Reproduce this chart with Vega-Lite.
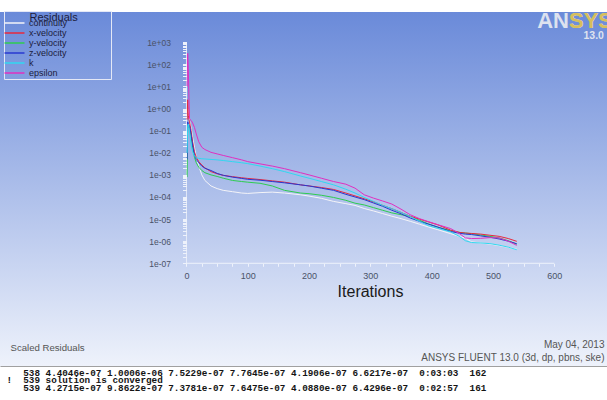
{
  "$schema": "https://vega.github.io/schema/vega-lite/v6.json",
  "width": 607,
  "height": 400,
  "autosize": {"type": "none"},
  "padding": 0,
  "background": "#ffffff",
  "config": {"view": {"stroke": null}, "font": "Liberation Sans"},
  "title": {
    "text": "ANSYS",
    "subtitle": "SYS",
    "orient": "top",
    "anchor": "end",
    "frame": "group",
    "offset": -33,
    "dx": 6,
    "font": "Liberation Sans",
    "fontSize": 22,
    "fontWeight": "bold",
    "color": "#dde2ef",
    "subtitleFont": "Liberation Sans",
    "subtitleFontSize": 22,
    "subtitleFontWeight": "bold",
    "subtitleColor": "#d6be5c",
    "subtitlePadding": -22
  },
  "datasets": {
    "res": [
      {"i":1,"s":"continuity","v":1},{"i":2,"s":"continuity","v":1},{"i":3,"s":"continuity","v":0.794},{"i":4,"s":"continuity","v":0.501},{"i":5,"s":"continuity","v":0.282},{"i":6,"s":"continuity","v":0.224},{"i":8,"s":"continuity","v":0.112},{"i":10,"s":"continuity","v":0.0501},{"i":13,"s":"continuity","v":0.0178},{"i":16,"s":"continuity","v":0.00631},{"i":20,"s":"continuity","v":0.00251},{"i":25,"s":"continuity","v":0.001},{"i":30,"s":"continuity","v":5.62e-4},{"i":40,"s":"continuity","v":3.16e-4},{"i":50,"s":"continuity","v":2.40e-4},{"i":60,"s":"continuity","v":2.0e-4},{"i":75,"s":"continuity","v":1.74e-4},{"i":90,"s":"continuity","v":1.51e-4},{"i":100,"s":"continuity","v":1.45e-4},{"i":120,"s":"continuity","v":1.58e-4},{"i":140,"s":"continuity","v":1.66e-4},{"i":160,"s":"continuity","v":1.51e-4},{"i":186,"s":"continuity","v":1.26e-4},{"i":200,"s":"continuity","v":1.10e-4},{"i":220,"s":"continuity","v":8.71e-5},{"i":240,"s":"continuity","v":6.31e-5},{"i":260,"s":"continuity","v":5.01e-5},{"i":275,"s":"continuity","v":4.17e-5},{"i":290,"s":"continuity","v":3.02e-5},{"i":305,"s":"continuity","v":2.34e-5},{"i":320,"s":"continuity","v":1.78e-5},{"i":335,"s":"continuity","v":1.35e-5},{"i":350,"s":"continuity","v":1.05e-5},{"i":365,"s":"continuity","v":7.94e-6},{"i":380,"s":"continuity","v":5.89e-6},{"i":395,"s":"continuity","v":4.37e-6},{"i":410,"s":"continuity","v":3.31e-6},{"i":431,"s":"continuity","v":2.19e-6},{"i":445,"s":"continuity","v":1.66e-6},{"i":455,"s":"continuity","v":1.38e-6},{"i":465,"s":"continuity","v":9.33e-7},{"i":480,"s":"continuity","v":8.32e-7},{"i":495,"s":"continuity","v":7.41e-7},{"i":510,"s":"continuity","v":6.31e-7},{"i":525,"s":"continuity","v":5.25e-7},{"i":538,"s":"continuity","v":4.4046e-7},{"i":539,"s":"continuity","v":4.2715e-7},
      {"i":1,"s":"y-velocity","v":7.94e-4},{"i":2,"s":"y-velocity","v":0.2},{"i":3,"s":"y-velocity","v":0.158},{"i":4,"s":"y-velocity","v":0.141},{"i":5,"s":"y-velocity","v":0.126},{"i":6,"s":"y-velocity","v":0.1},{"i":8,"s":"y-velocity","v":0.0447},{"i":10,"s":"y-velocity","v":0.0178},{"i":13,"s":"y-velocity","v":0.00631},{"i":16,"s":"y-velocity","v":0.00355},{"i":20,"s":"y-velocity","v":0.00224},{"i":25,"s":"y-velocity","v":0.00158},{"i":30,"s":"y-velocity","v":0.00126},{"i":40,"s":"y-velocity","v":0.001},{"i":50,"s":"y-velocity","v":8.51e-4},{"i":60,"s":"y-velocity","v":7.08e-4},{"i":75,"s":"y-velocity","v":5.62e-4},{"i":90,"s":"y-velocity","v":5.01e-4},{"i":100,"s":"y-velocity","v":4.68e-4},{"i":120,"s":"y-velocity","v":4.17e-4},{"i":140,"s":"y-velocity","v":3.16e-4},{"i":160,"s":"y-velocity","v":2.0e-4},{"i":186,"s":"y-velocity","v":1.51e-4},{"i":200,"s":"y-velocity","v":1.41e-4},{"i":220,"s":"y-velocity","v":1.20e-4},{"i":240,"s":"y-velocity","v":9.55e-5},{"i":260,"s":"y-velocity","v":7.08e-5},{"i":275,"s":"y-velocity","v":5.25e-5},{"i":290,"s":"y-velocity","v":4.37e-5},{"i":305,"s":"y-velocity","v":3.31e-5},{"i":320,"s":"y-velocity","v":2.51e-5},{"i":335,"s":"y-velocity","v":1.91e-5},{"i":350,"s":"y-velocity","v":1.58e-5},{"i":365,"s":"y-velocity","v":1.32e-5},{"i":380,"s":"y-velocity","v":8.91e-6},{"i":395,"s":"y-velocity","v":6.03e-6},{"i":410,"s":"y-velocity","v":4.27e-6},{"i":431,"s":"y-velocity","v":3.02e-6},{"i":445,"s":"y-velocity","v":2.51e-6},{"i":455,"s":"y-velocity","v":2.34e-6},{"i":465,"s":"y-velocity","v":2.19e-6},{"i":480,"s":"y-velocity","v":1.91e-6},{"i":495,"s":"y-velocity","v":1.66e-6},{"i":510,"s":"y-velocity","v":1.41e-6},{"i":525,"s":"y-velocity","v":1.05e-6},{"i":538,"s":"y-velocity","v":7.5229e-7},{"i":539,"s":"y-velocity","v":7.3781e-7},
      {"i":1,"s":"x-velocity","v":0.316},{"i":2,"s":"x-velocity","v":2.51},{"i":3,"s":"x-velocity","v":0.501},{"i":4,"s":"x-velocity","v":0.316},{"i":5,"s":"x-velocity","v":0.251},{"i":6,"s":"x-velocity","v":0.178},{"i":8,"s":"x-velocity","v":0.0794},{"i":10,"s":"x-velocity","v":0.0316},{"i":13,"s":"x-velocity","v":0.0112},{"i":16,"s":"x-velocity","v":0.00631},{"i":20,"s":"x-velocity","v":0.00398},{"i":25,"s":"x-velocity","v":0.00282},{"i":30,"s":"x-velocity","v":0.00209},{"i":40,"s":"x-velocity","v":0.00141},{"i":50,"s":"x-velocity","v":0.00112},{"i":60,"s":"x-velocity","v":9.55e-4},{"i":75,"s":"x-velocity","v":8.32e-4},{"i":90,"s":"x-velocity","v":7.41e-4},{"i":100,"s":"x-velocity","v":6.92e-4},{"i":120,"s":"x-velocity","v":6.17e-4},{"i":140,"s":"x-velocity","v":5.37e-4},{"i":160,"s":"x-velocity","v":4.68e-4},{"i":186,"s":"x-velocity","v":3.55e-4},{"i":200,"s":"x-velocity","v":3.16e-4},{"i":220,"s":"x-velocity","v":2.69e-4},{"i":240,"s":"x-velocity","v":2.19e-4},{"i":260,"s":"x-velocity","v":1.51e-4},{"i":275,"s":"x-velocity","v":1.12e-4},{"i":290,"s":"x-velocity","v":8.32e-5},{"i":305,"s":"x-velocity","v":6.03e-5},{"i":320,"s":"x-velocity","v":4.17e-5},{"i":335,"s":"x-velocity","v":2.95e-5},{"i":350,"s":"x-velocity","v":2.0e-5},{"i":365,"s":"x-velocity","v":1.35e-5},{"i":380,"s":"x-velocity","v":1.0e-5},{"i":395,"s":"x-velocity","v":7.41e-6},{"i":410,"s":"x-velocity","v":5.5e-6},{"i":431,"s":"x-velocity","v":3.16e-6},{"i":445,"s":"x-velocity","v":2.51e-6},{"i":455,"s":"x-velocity","v":2.34e-6},{"i":465,"s":"x-velocity","v":2.24e-6},{"i":480,"s":"x-velocity","v":2.09e-6},{"i":495,"s":"x-velocity","v":1.86e-6},{"i":510,"s":"x-velocity","v":1.66e-6},{"i":525,"s":"x-velocity","v":1.32e-6},{"i":538,"s":"x-velocity","v":1.0006e-6},{"i":539,"s":"x-velocity","v":9.8622e-7},
      {"i":1,"s":"z-velocity","v":0.00501},{"i":2,"s":"z-velocity","v":0.251},{"i":3,"s":"z-velocity","v":0.2},{"i":4,"s":"z-velocity","v":0.178},{"i":5,"s":"z-velocity","v":0.158},{"i":6,"s":"z-velocity","v":0.126},{"i":8,"s":"z-velocity","v":0.0562},{"i":10,"s":"z-velocity","v":0.0224},{"i":13,"s":"z-velocity","v":0.00794},{"i":16,"s":"z-velocity","v":0.00501},{"i":20,"s":"z-velocity","v":0.00355},{"i":25,"s":"z-velocity","v":0.00251},{"i":30,"s":"z-velocity","v":0.002},{"i":40,"s":"z-velocity","v":0.00158},{"i":50,"s":"z-velocity","v":0.00117},{"i":60,"s":"z-velocity","v":9.55e-4},{"i":75,"s":"z-velocity","v":7.94e-4},{"i":90,"s":"z-velocity","v":6.92e-4},{"i":100,"s":"z-velocity","v":6.31e-4},{"i":120,"s":"z-velocity","v":5.75e-4},{"i":140,"s":"z-velocity","v":5.01e-4},{"i":160,"s":"z-velocity","v":4.37e-4},{"i":186,"s":"z-velocity","v":3.55e-4},{"i":200,"s":"z-velocity","v":3.16e-4},{"i":220,"s":"z-velocity","v":2.51e-4},{"i":240,"s":"z-velocity","v":2.0e-4},{"i":260,"s":"z-velocity","v":1.32e-4},{"i":275,"s":"z-velocity","v":1.0e-4},{"i":290,"s":"z-velocity","v":7.59e-5},{"i":305,"s":"z-velocity","v":5.37e-5},{"i":320,"s":"z-velocity","v":3.80e-5},{"i":335,"s":"z-velocity","v":2.51e-5},{"i":350,"s":"z-velocity","v":1.74e-5},{"i":365,"s":"z-velocity","v":1.12e-5},{"i":380,"s":"z-velocity","v":7.94e-6},{"i":395,"s":"z-velocity","v":5.89e-6},{"i":410,"s":"z-velocity","v":4.37e-6},{"i":431,"s":"z-velocity","v":2.75e-6},{"i":445,"s":"z-velocity","v":2.29e-6},{"i":455,"s":"z-velocity","v":2.09e-6},{"i":465,"s":"z-velocity","v":2.0e-6},{"i":480,"s":"z-velocity","v":1.74e-6},{"i":495,"s":"z-velocity","v":1.51e-6},{"i":510,"s":"z-velocity","v":1.26e-6},{"i":525,"s":"z-velocity","v":1.0e-6},{"i":538,"s":"z-velocity","v":7.7645e-7},{"i":539,"s":"z-velocity","v":7.6475e-7},
      {"i":1,"s":"k","v":0.01},{"i":2,"s":"k","v":0.178},{"i":3,"s":"k","v":0.2},{"i":4,"s":"k","v":0.141},{"i":5,"s":"k","v":0.0891},{"i":6,"s":"k","v":0.0501},{"i":8,"s":"k","v":0.02},{"i":10,"s":"k","v":0.0112},{"i":13,"s":"k","v":0.00708},{"i":16,"s":"k","v":0.00603},{"i":20,"s":"k","v":0.00562},{"i":25,"s":"k","v":0.00537},{"i":30,"s":"k","v":0.00525},{"i":40,"s":"k","v":0.00501},{"i":50,"s":"k","v":0.00479},{"i":60,"s":"k","v":0.00447},{"i":75,"s":"k","v":0.00398},{"i":90,"s":"k","v":0.00355},{"i":100,"s":"k","v":0.00324},{"i":120,"s":"k","v":0.00251},{"i":140,"s":"k","v":0.00191},{"i":160,"s":"k","v":0.00141},{"i":186,"s":"k","v":8.91e-4},{"i":200,"s":"k","v":7.08e-4},{"i":220,"s":"k","v":5.01e-4},{"i":240,"s":"k","v":3.55e-4},{"i":260,"s":"k","v":2.24e-4},{"i":275,"s":"k","v":1.51e-4},{"i":290,"s":"k","v":9.55e-5},{"i":305,"s":"k","v":6.31e-5},{"i":320,"s":"k","v":4.17e-5},{"i":335,"s":"k","v":2.95e-5},{"i":350,"s":"k","v":2.0e-5},{"i":365,"s":"k","v":1.32e-5},{"i":380,"s":"k","v":7.94e-6},{"i":395,"s":"k","v":5.01e-6},{"i":410,"s":"k","v":3.80e-6},{"i":431,"s":"k","v":2.63e-6},{"i":445,"s":"k","v":1.66e-6},{"i":455,"s":"k","v":1.05e-6},{"i":465,"s":"k","v":8.71e-7},{"i":480,"s":"k","v":8.32e-7},{"i":495,"s":"k","v":7.76e-7},{"i":510,"s":"k","v":6.61e-7},{"i":525,"s":"k","v":5.37e-7},{"i":538,"s":"k","v":4.1906e-7},{"i":539,"s":"k","v":4.0880e-7},
      {"i":1,"s":"epsilon","v":10},{"i":2,"s":"epsilon","v":316},{"i":3,"s":"epsilon","v":63.1},{"i":4,"s":"epsilon","v":3.16},{"i":5,"s":"epsilon","v":0.355},{"i":6,"s":"epsilon","v":0.316},{"i":8,"s":"epsilon","v":0.282},{"i":10,"s":"epsilon","v":0.224},{"i":13,"s":"epsilon","v":0.141},{"i":16,"s":"epsilon","v":0.0708},{"i":20,"s":"epsilon","v":0.0316},{"i":25,"s":"epsilon","v":0.0178},{"i":30,"s":"epsilon","v":0.0141},{"i":40,"s":"epsilon","v":0.0105},{"i":50,"s":"epsilon","v":0.00891},{"i":60,"s":"epsilon","v":0.00759},{"i":75,"s":"epsilon","v":0.00603},{"i":90,"s":"epsilon","v":0.00479},{"i":100,"s":"epsilon","v":0.00398},{"i":120,"s":"epsilon","v":0.00316},{"i":140,"s":"epsilon","v":0.00251},{"i":160,"s":"epsilon","v":0.00191},{"i":186,"s":"epsilon","v":0.00126},{"i":200,"s":"epsilon","v":0.001},{"i":220,"s":"epsilon","v":7.08e-4},{"i":240,"s":"epsilon","v":5.01e-4},{"i":260,"s":"epsilon","v":3.80e-4},{"i":275,"s":"epsilon","v":2.51e-4},{"i":290,"s":"epsilon","v":1.26e-4},{"i":305,"s":"epsilon","v":8.91e-5},{"i":320,"s":"epsilon","v":6.61e-5},{"i":335,"s":"epsilon","v":4.79e-5},{"i":350,"s":"epsilon","v":2.82e-5},{"i":365,"s":"epsilon","v":1.58e-5},{"i":380,"s":"epsilon","v":1.05e-5},{"i":395,"s":"epsilon","v":7.59e-6},{"i":410,"s":"epsilon","v":5.62e-6},{"i":431,"s":"epsilon","v":3.72e-6},{"i":445,"s":"epsilon","v":2.24e-6},{"i":455,"s":"epsilon","v":1.41e-6},{"i":465,"s":"epsilon","v":1.32e-6},{"i":480,"s":"epsilon","v":1.35e-6},{"i":495,"s":"epsilon","v":1.45e-6},{"i":510,"s":"epsilon","v":1.41e-6},{"i":525,"s":"epsilon","v":1.0e-6},{"i":538,"s":"epsilon","v":6.6217e-7},{"i":539,"s":"epsilon","v":6.4296e-7}
    ]
  },
  "resolve": {"axis": {"x": "independent", "y": "independent"}},
  "layer": [
    {
      "data": {"values": [{}]},
      "mark": {"type": "rect", "strokeWidth": 0, "color": {"gradient": "linear", "x1": 0, "y1": 0, "x2": 0, "y2": 1, "stops": [
        {"offset": 0, "color": "#ffffff"}, {"offset": 0.029, "color": "#ffffff"},
        {"offset": 0.03, "color": "#6a8ad9"}, {"offset": 0.915, "color": "#eef2fb"},
        {"offset": 0.917, "color": "#ffffff"}, {"offset": 1, "color": "#ffffff"}]}},
      "encoding": {}
    },
    {
      "data": {"values": [{}]},
      "mark": {"type": "rule", "color": "#eef2fb", "strokeWidth": 1},
      "encoding": {
        "x": {"datum": 0, "type": "quantitative", "scale": {"domain": [-304.2, 686.0], "nice": false, "zero": false}, "axis": null},
        "y": {"datum": 1e-7, "type": "quantitative", "scale": {"type": "log", "domain": [6.52e-14, 82035], "nice": false}, "axis": {
          "orient": "right", "offset": 0, "domain": false, "ticks": false, "labels": false, "grid": false, "zindex": 1,
          "title": ["\u200b\u00a0\u00a0\u00a0538 4.4046e-07 1.0006e-06 7.5229e-07 7.7645e-07 4.1906e-07 6.6217e-07\u00a0\u00a00:03:03\u00a0\u00a0162", "!\u00a0\u00a0539 solution is converged", "\u200b\u00a0\u00a0\u00a0539 4.2715e-07 9.8622e-07 7.3781e-07 7.6475e-07 4.0880e-07 6.4296e-07\u00a0\u00a00:02:57\u00a0\u00a0161"],
          "titleAngle": 0, "titleAlign": "left", "titleBaseline": "alphabetic", "titleX": -601, "titleY": 375,
          "titleFont": "Liberation Mono", "titleFontSize": 9.3, "titleFontWeight": "bold", "titleLineHeight": 7.6,
          "titleColor": "#141414", "titleLimit": 1000}},
        "y2": {"datum": 1000},
        "strokeDash": {"datum": "13.0", "type": "nominal", "legend": {
          "orient": "none", "legendX": 573, "legendY": 31, "title": null, "padding": 0,
          "symbolOpacity": 0, "symbolSize": 1, "labelOffset": 0,
          "labelFont": "Liberation Sans", "labelFontSize": 10.5, "labelFontWeight": "bold", "labelColor": "#dfe3ef"}}
      }
    },
    {
      "data": {"values": [{}]},
      "mark": {"type": "rule", "color": "#eef2fb", "strokeWidth": 1},
      "encoding": {
        "y": {"datum": 1e-7, "type": "quantitative", "scale": {"type": "log", "domain": [6.52e-14, 82035], "nice": false}, "axis": null},
        "x": {"datum": 0, "type": "quantitative", "scale": {"domain": [-304.2, 686.0], "nice": false, "zero": false}, "axis": {
          "orient": "top", "offset": -366, "domain": true, "domainColor": "#a0a0a0", "domainWidth": 1, "ticks": false, "labels": false, "grid": false, "zindex": 1,
          "title": ["May 04, 2013", "ANSYS FLUENT 13.0 (3d, dp, pbns, ske)"],
          "titleAlign": "right", "titleBaseline": "alphabetic", "titleX": 604, "titleY": -18.5, "titleAngle": 0,
          "titleFont": "Liberation Sans", "titleFontSize": 10, "titleFontWeight": "normal", "titleLineHeight": 12.5,
          "titleColor": "#555555", "titleLimit": 1000}},
        "x2": {"datum": 600}
      }
    },
    {
      "data": {"name": "res"},
      "mark": {"type": "line", "strokeWidth": 1},
      "encoding": {
        "x": {"field": "i", "type": "quantitative", "scale": {"domain": [-304.2, 686.0], "nice": false, "zero": false}, "axis": {
          "orient": "bottom", "offset": -136.7, "domain": false, "grid": false, "zindex": 1,
          "values": [0,25,50,75,100,125,150,175,200,225,250,275,300,325,350,375,400,425,450,475,500,525,550,575,600],
          "labelExpr": "datum.value % 100 === 0 ? datum.label : ''",
          "tickSize": 3,
          "tickColor": "#eef2fb", "labelFont": "Liberation Sans", "labelFontSize": 9, "labelColor": "#4a5268", "labelPadding": 5,
          "labelOverlap": false, "labelFlush": false, "labelBound": false,
          "title": "Iterations", "titleX": 370, "titleY": 33, "titleBaseline": "alphabetic", "titleAlign": "center",
          "titleFont": "Liberation Sans", "titleFontSize": 16, "titleFontWeight": "normal", "titleColor": "#1a1a1a"}},
        "y": {"field": "v", "type": "quantitative", "scale": {"type": "log", "domain": [6.52e-14, 82035], "nice": false}, "axis": {
          "orient": "left", "offset": -186.5, "domain": false, "grid": false, "zindex": 1,
          "values": [1e-7,2e-7,3e-7,4e-7,5e-7,6e-7,7e-7,8e-7,9e-7,1e-6,2e-6,3e-6,4e-6,5e-6,6e-6,7e-6,8e-6,9e-6,1e-5,2e-5,3e-5,4e-5,5e-5,6e-5,7e-5,8e-5,9e-5,1e-4,2e-4,3e-4,4e-4,5e-4,6e-4,7e-4,8e-4,9e-4,0.001,0.002,0.003,0.004,0.005,0.006,0.007,0.008,0.009,0.01,0.02,0.03,0.04,0.05,0.06,0.07,0.08,0.09,0.1,0.2,0.3,0.4,0.5,0.6,0.7,0.8,0.9,1,2,3,4,5,6,7,8,9,10,20,30,40,50,60,70,80,90,100,200,300,400,500,600,700,800,900,1000],
          "labelExpr": "abs(log(datum.value)/LN10 - round(log(datum.value)/LN10)) < 0.001 ? ('1e' + (round(log(datum.value)/LN10) < 0 ? '-' : '+') + (abs(round(log(datum.value)/LN10)) < 10 ? '0' : '') + abs(round(log(datum.value)/LN10))) : ''",
          "tickSize": 4,
          "tickColor": "#eef2fb", "labelFont": "Liberation Sans", "labelFontSize": 8.5, "labelColor": "#4a5268", "labelPadding": 12,
          "labelOverlap": false, "labelFlush": false, "labelBound": false,
          "title": "Scaled Residuals", "titleAngle": 0, "titleAlign": "left", "titleBaseline": "alphabetic", "titleX": -176.5, "titleY": 350.5,
          "titleFont": "Liberation Sans", "titleFontSize": 9.6, "titleFontWeight": "normal", "titleColor": "#555555"}},
        "color": {"field": "s", "type": "nominal",
          "scale": {"domain": ["continuity", "x-velocity", "y-velocity", "z-velocity", "k", "epsilon"], "range": ["#f4f4f8", "#e8283c", "#2ecc50", "#2838d0", "#30d8f0", "#e030c0"]},
          "legend": {
            "orient": "none", "legendX": 4, "legendY": 11, "direction": "vertical",
            "title": "\u200b\u00a0\u00a0\u00a0\u00a0\u00a0\u00a0\u00a0\u00a0Residuals",
            "titleFont": "Liberation Sans", "titleFontSize": 11, "titleFontWeight": "normal", "titleColor": "#1c1c3c", "titleAnchor": "start", "titleLimit": 300, "titlePadding": -4.5,
            "labelFont": "Liberation Sans", "labelFontSize": 9, "labelColor": "#1c1c3c", "labelOffset": 15,
            "labelExpr": "datum.label + '\u00a0\u00a0\u00a0\u00a0\u00a0\u00a0\u00a0\u00a0\u00a0\u00a0\u00a0\u00a0\u00a0\u00a0\u00a0\u00a0\u00a0\u200b'",
            "symbolType": "M-2,0H6", "symbolSize": 25, "symbolStrokeWidth": 1.5,
            "rowPadding": 0, "padding": 1, "strokeColor": "#e4e8f6"}}
      }
    }
  ]
}
